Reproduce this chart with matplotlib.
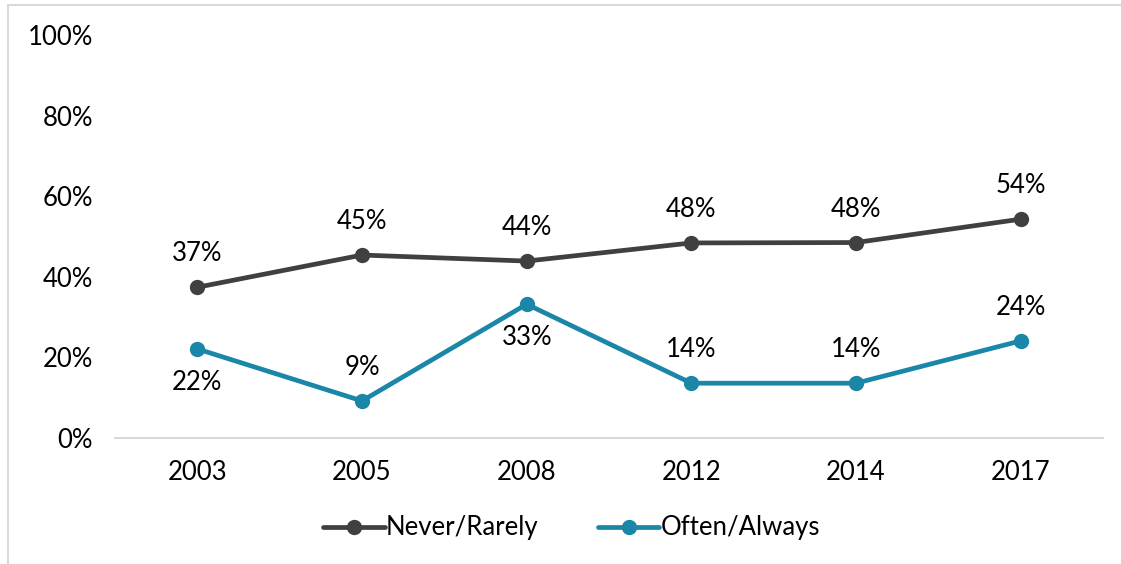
import matplotlib
matplotlib.use('Agg')
import matplotlib.pyplot as plt
from matplotlib.patches import Rectangle

years = ['2003', '2005', '2008', '2012', '2014', '2017']
never_rarely = [37.4, 45.4, 43.9, 48.4, 48.5, 54.3]
often_always = [22.1, 9.2, 33.2, 13.6, 13.6, 24.1]
# label position for the blue series: 1 = above, -1 = below
often_label_side = [-1, 1, -1, 1, 1, 1]

plt.rcParams['font.family'] = ['Lato', 'DejaVu Sans']
fs = 18.5

fig = plt.figure(figsize=(11.21, 5.64), dpi=100)
ax = fig.add_axes([0.1026, 0.2234, 0.8814, 0.7146])

# chart area border (only left and top edges are visible in the crop)
fig.patches.append(Rectangle((8 / 1121, -0.1), 1.2, 1 - 5 / 564 + 0.1,
                             transform=fig.transFigure, fill=False,
                             edgecolor='#D9D9D9', linewidth=1.5))

x = list(range(len(years)))
dark = '#404040'
blue = '#1A86A8'

ax.plot(x, never_rarely, color=dark, linewidth=3.4, marker='o', markersize=10,
        label='Never/Rarely', solid_capstyle='round')
ax.plot(x, often_always, color=blue, linewidth=3.4, marker='o', markersize=10,
        label='Often/Always', solid_capstyle='round')

for i, v in enumerate(never_rarely):
    ax.annotate('%.0f%%' % v, (i, v), xytext=(0, 24), textcoords='offset points',
                ha='center', va='center', fontsize=fs, color='#000000')
for i, v in enumerate(often_always):
    ax.annotate('%.0f%%' % v, (i, v), xytext=(0, 24 * often_label_side[i]),
                textcoords='offset points', ha='center', va='center',
                fontsize=fs, color='#000000')

ax.set_xlim(-0.5, len(years) - 0.5)
ax.set_ylim(0, 100)
ax.set_xticks(x)
ax.set_xticklabels(years)
ax.set_yticks([0, 20, 40, 60, 80, 100])
ax.set_yticklabels(['%d%%' % t for t in [0, 20, 40, 60, 80, 100]])
ax.tick_params(axis='both', length=0, labelsize=fs, colors='#000000')
ax.tick_params(axis='y', pad=16)
ax.tick_params(axis='x', pad=16)

for s in ['top', 'right', 'left']:
    ax.spines[s].set_visible(False)
ax.spines['bottom'].set_color('#D9D9D9')
ax.spines['bottom'].set_linewidth(1.5)

leg = fig.legend(loc='center', bbox_to_anchor=(0.51, 1 - 528 / 564), ncol=2,
                 frameon=False, fontsize=fs, handlelength=2.4, handletextpad=0.05,
                 columnspacing=2.3)

fig.savefig('out.png', dpi=100)
